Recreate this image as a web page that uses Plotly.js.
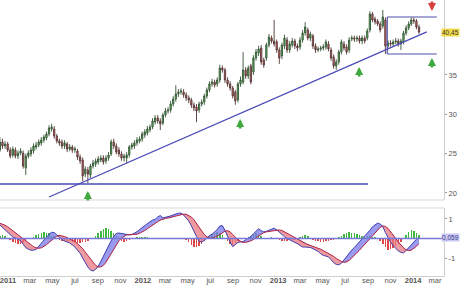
<!DOCTYPE html>
<html><head><meta charset="utf-8">
<script src="https://cdn.plot.ly/plotly-3.0.1.min.js"></script>
<style>html,body{margin:0;padding:0;background:#fff;}#chart{width:460px;height:286px;}</style>
</head><body><div id="chart"></div>
<script>
// Weekly candles, first week starting 2010-12-10
const firstWeek = '2010-12-10';
const open = [25.46,26.48,25.97,26.23,25.46,24.83,25.46,24.70,25.08,25.08,
23.18,24.70,24.96,25.34,25.84,26.10,26.35,26.73,26.99,27.50,
28.13,28.13,27.24,26.61,26.48,25.97,26.23,25.59,25.84,25.46,
25.34,24.57,24.19,22.41,22.92,22.29,23.43,23.68,23.94,24.19,
24.45,24.07,24.45,24.96,26.48,25.97,25.46,24.96,24.45,24.45,
24.83,25.84,25.97,26.35,26.61,26.86,27.37,27.62,28.01,28.39,
29.02,29.53,29.15,28.89,29.91,30.42,30.55,31.31,31.94,32.58,
32.83,32.83,32.45,32.08,31.82,31.18,30.93,30.55,31.31,31.56,
32.32,33.09,33.85,34.10,33.85,34.36,35.88,35.63,34.36,33.85,
33.34,32.83,31.82,33.85,34.10,35.63,34.87,36.14,35.37,37.15,
37.79,38.42,36.90,37.15,38.81,39.69,39.31,39.19,38.17,37.41,
38.68,39.44,38.17,38.81,39.31,38.68,38.55,39.44,40.33,40.71,
39.69,39.95,38.68,38.17,38.30,38.42,38.55,38.93,38.17,37.28,
36.14,36.65,37.92,38.93,38.55,38.17,39.57,39.69,39.57,39.69,
39.31,39.69,39.69,40.71,42.74,42.11,41.85,41.47,41.22,41.98,
38.68,39.06,38.93,39.19,39.31,38.93,39.19,40.33,40.96,41.47,
41.98,41.85,41.09];
const close = [26.48,25.97,26.23,25.46,24.70,25.59,24.70,25.08,25.34,23.43,
24.70,25.08,25.46,25.97,26.10,26.48,26.73,27.12,27.50,28.26,
28.39,27.24,26.61,26.35,25.97,26.35,25.59,25.84,25.46,25.59,
24.57,24.07,22.16,23.05,22.41,23.43,23.81,24.07,24.32,24.45,
23.94,24.45,24.83,26.48,25.97,25.21,24.96,24.45,24.70,24.83,
25.84,26.10,26.35,26.73,26.86,27.50,27.75,28.13,28.39,29.15,
29.53,29.15,28.77,29.91,30.42,30.55,31.31,31.94,32.58,32.83,
32.96,32.45,32.08,31.82,31.18,30.80,30.42,31.31,31.56,32.32,
33.09,33.85,34.10,33.72,34.36,35.88,35.63,34.36,33.85,33.34,
32.32,31.69,33.85,34.36,35.63,34.87,35.88,34.10,37.15,37.92,
38.30,36.65,36.26,38.81,39.82,39.31,38.93,38.17,37.15,38.81,
39.69,38.17,38.93,39.31,38.68,38.42,39.44,40.33,41.09,39.69,
40.20,38.68,38.17,38.30,38.42,38.55,39.19,38.30,37.15,36.14,
36.65,37.92,39.19,38.42,37.92,39.44,39.69,39.57,39.69,39.31,
39.69,39.31,40.58,42.74,41.98,41.73,41.47,40.71,42.36,38.68,
39.06,38.93,39.19,39.31,38.93,39.31,40.33,40.96,41.47,41.98,
41.85,41.09,40.45];
const high = [27.1,26.9,26.6,26.5,25.8,25.9,25.8,25.4,25.7,25.4,
25.0,25.4,25.8,26.3,26.5,26.8,27.1,27.4,27.8,28.6,
28.8,28.5,27.5,26.9,26.8,26.7,26.5,26.2,26.1,25.9,
25.6,24.9,24.5,23.4,23.3,23.7,24.2,24.4,24.7,24.8,
24.8,24.8,25.2,26.8,26.9,26.3,25.8,25.3,25.0,25.2,
26.1,26.4,26.7,27.1,27.2,27.8,28.1,28.5,28.7,29.5,
29.9,29.9,29.5,30.2,30.8,30.9,31.7,32.3,33.7,33.2,
33.3,33.2,32.8,32.4,32.1,31.5,31.3,31.6,31.9,32.6,
33.4,34.2,34.5,34.4,34.7,36.3,36.2,35.9,34.7,34.2,
33.6,33.1,34.1,34.8,37.9,36.0,36.2,36.4,37.5,38.3,
38.7,38.8,37.2,39.1,40.2,40.0,42.0,39.5,38.5,39.1,
40.1,39.8,39.3,39.7,39.6,39.0,39.8,40.7,41.7,41.0,
40.5,40.2,39.0,38.6,38.7,38.9,39.5,39.3,38.5,37.6,
37.0,38.2,39.5,39.3,38.9,39.8,40.0,40.0,40.0,40.0,
40.0,40.0,40.9,43.1,43.0,42.4,42.1,41.8,43.25,42.3,
39.4,39.4,39.5,39.7,39.6,39.6,40.6,41.3,41.8,42.3,
42.3,42.1,41.4];
const low = [25.2,25.6,25.6,25.2,24.4,24.5,24.4,24.3,24.8,23.1,
22.3,24.4,24.6,25.0,25.5,25.8,26.0,26.4,26.7,27.2,
27.8,26.9,26.3,26.0,25.6,25.6,25.2,25.3,25.1,25.1,
24.2,23.7,21.5,22.0,21.27,21.9,23.1,23.3,23.6,23.9,
23.6,23.7,24.1,24.7,25.6,24.9,24.6,24.1,24.0,23.8,
24.5,25.5,25.6,26.0,26.3,26.5,27.0,27.3,27.7,28.1,
28.7,28.8,28.0,28.6,29.6,30.1,30.2,31.0,31.6,32.2,
32.5,32.1,31.7,31.4,30.8,30.4,29.0,30.2,31.0,31.2,
32.0,32.8,33.5,33.4,33.5,34.0,35.3,34.0,33.5,33.0,
32.0,31.2,31.5,33.5,33.8,34.5,34.5,33.8,35.0,36.8,
37.4,36.3,35.9,36.8,38.5,39.0,38.6,37.8,36.4,37.0,
38.3,37.8,37.8,38.5,38.3,38.0,38.2,39.1,40.0,39.4,
39.3,38.3,37.8,37.9,38.0,38.1,38.2,38.0,36.8,35.8,
35.63,36.3,37.6,38.1,37.6,37.8,39.3,39.2,39.2,39.0,
38.9,39.0,39.4,40.4,41.7,41.4,41.2,40.4,40.9,37.66,
38.3,38.6,38.6,38.9,38.6,38.17,38.9,40.0,40.7,41.2,
41.5,40.8,40.2];
const macd = [0.69,0.57,0.43,0.29,0.17,0.08,0.03,-0.04,-0.11,-0.3,
-0.47,-0.55,-0.6,-0.6,-0.56,-0.4,-0.26,-0.1,0.07,0.22,
0.32,0.3,0.17,0.05,-0.05,-0.13,-0.18,-0.23,-0.33,-0.44,
-0.6,-0.76,-1.0,-1.24,-1.46,-1.62,-1.67,-1.58,-1.42,-1.18,
-0.9,-0.6,-0.33,-0.12,0.1,0.26,0.28,0.26,0.23,0.2,
0.18,0.2,0.26,0.35,0.46,0.57,0.67,0.78,0.86,0.94,
0.98,1.1,1.18,1.06,1.08,1.12,1.16,1.22,1.27,1.3,
1.3,1.2,1.05,0.9,0.65,0.35,0.1,-0.15,-0.18,-0.1,
0.05,0.15,0.22,0.32,0.46,0.64,0.66,0.42,0.1,-0.18,
-0.42,-0.32,-0.2,-0.18,-0.16,-0.06,0.02,0.1,0.24,0.4,
0.5,0.4,0.34,0.37,0.42,0.48,0.53,0.45,0.32,0.2,
0.09,0.0,-0.08,-0.15,-0.2,-0.26,-0.36,-0.44,-0.44,-0.44,
-0.46,-0.52,-0.57,-0.66,-0.78,-0.87,-0.9,-0.94,-1.08,-1.24,
-1.33,-1.35,-1.27,-1.1,-0.9,-0.72,-0.6,-0.46,-0.32,-0.18,
-0.05,0.12,0.27,0.42,0.6,0.72,0.79,0.74,0.62,0.3,
0.05,-0.18,-0.36,-0.5,-0.64,-0.71,-0.74,-0.62,-0.48,-0.34,
-0.16,-0.04,0.06];
const signal = [0.78,0.74,0.68,0.6,0.5,0.4,0.3,0.2,0.1,0.0,
-0.12,-0.24,-0.34,-0.42,-0.48,-0.5,-0.48,-0.42,-0.32,-0.2,
-0.08,0.04,0.12,0.16,0.14,0.1,0.04,-0.02,-0.08,-0.16,
-0.26,-0.38,-0.52,-0.7,-0.88,-1.06,-1.24,-1.38,-1.46,-1.46,
-1.38,-1.22,-1.0,-0.78,-0.54,-0.3,-0.12,0.02,0.12,0.18,
0.2,0.2,0.2,0.22,0.27,0.33,0.41,0.5,0.6,0.7,
0.78,0.86,0.94,1.0,1.03,1.05,1.08,1.11,1.15,1.19,
1.23,1.25,1.24,1.19,1.1,0.96,0.78,0.56,0.36,0.2,
0.08,0.02,0.02,0.06,0.12,0.2,0.3,0.38,0.4,0.34,
0.2,0.06,-0.06,-0.14,-0.2,-0.2,-0.17,-0.12,-0.05,0.04,
0.14,0.24,0.3,0.34,0.36,0.38,0.41,0.44,0.44,0.41,
0.35,0.28,0.2,0.12,0.04,-0.04,-0.11,-0.18,-0.25,-0.31,
-0.35,-0.4,-0.44,-0.49,-0.55,-0.62,-0.69,-0.76,-0.83,-0.92,
-1.02,-1.11,-1.18,-1.22,-1.2,-1.12,-1.0,-0.88,-0.74,-0.6,
-0.45,-0.3,-0.16,-0.02,0.14,0.3,0.45,0.57,0.64,0.62,
0.52,0.36,0.18,0.0,-0.18,-0.34,-0.48,-0.58,-0.62,-0.6,
-0.52,-0.4,-0.26];
const hist = [0.12,0.2,0.15,-0.05,-0.1,-0.18,-0.25,-0.3,-0.3,-0.25,
-0.15,-0.05,0.02,0.1,0.18,0.25,0.3,0.33,0.3,0.26,
0.2,0.12,-0.04,-0.08,-0.12,-0.15,-0.15,-0.15,-0.18,-0.2,
-0.23,-0.22,-0.2,-0.18,-0.12,-0.05,0.05,0.15,0.28,0.4,
0.5,0.54,0.5,0.4,0.28,0.12,-0.05,-0.12,-0.18,-0.15,
-0.1,-0.05,0.04,0.08,0.1,0.1,0.08,0.06,0.05,0.04,
0.03,0.05,0.05,0.03,0.02,0.02,0.03,0.04,0.04,0.03,
0.02,-0.02,-0.08,-0.2,-0.32,-0.42,-0.44,-0.4,-0.3,-0.15,
0.05,0.15,0.22,0.28,0.33,0.3,0.2,0.05,-0.15,-0.28,
-0.33,-0.25,-0.12,-0.05,0.02,0.05,0.1,0.15,0.22,0.28,
0.25,0.15,0.05,0.04,0.05,0.06,0.05,-0.04,-0.08,-0.12,
-0.15,-0.12,-0.1,-0.08,-0.06,-0.05,0.06,0.12,0.18,0.12,
-0.04,-0.08,-0.12,-0.15,-0.18,-0.18,-0.15,-0.12,-0.1,-0.08,
-0.04,0.06,0.14,0.22,0.3,0.33,0.3,0.26,0.22,0.18,
0.12,0.08,0.15,0.12,0.1,0.06,0.02,-0.15,-0.3,-0.45,
-0.6,-0.55,-0.48,-0.4,-0.3,-0.18,0.05,0.2,0.35,0.44,
0.4,0.3,0.2];
const tickDates = ['2011-01-01','2011-03-01','2011-05-01','2011-07-01','2011-09-01','2011-11-01',
'2012-01-01','2012-03-01','2012-05-01','2012-07-01','2012-09-01','2012-11-01',
'2013-01-01','2013-03-01','2013-05-01','2013-07-01','2013-09-01','2013-11-01',
'2014-01-01','2014-03-01'];
const tickLabels = ['<b>2011</b>','mar','may','jul','sep','nov','<b>2012</b>','mar','may','jul','sep','nov',
'<b>2013</b>','mar','may','jul','sep','nov','<b>2014</b>','mar'];
const lastPriceLabel = '40,45';
const lastMacdLabel = '0,059';
const supportLevel = 21.14;
const trendStart = ['2011-04-22', 19.49];
const trendEnd = ['2014-02-07', 40.46];
const boxTop = 42.36, boxBottom = 37.66;

const DAY = 86400000;
const t0 = new Date(firstWeek + 'T00:00:00Z').getTime();
const dates = open.map((_, i) => new Date(t0 + i * 7 * DAY).toISOString().slice(0, 10));

const hi = macd.map((m, i) => Math.max(m, signal[i]));
const lo = macd.map((m, i) => Math.min(m, signal[i]));

const traces = [
  {type:'candlestick', x:dates, open:open, high:high, low:low, close:close, xaxis:'x', yaxis:'y',
   increasing:{line:{color:'#355535', width:0.9}, fillcolor:'#58c058'},
   decreasing:{line:{color:'#553535', width:0.9}, fillcolor:'#e06a6a'},
   whiskerwidth:0, hoverinfo:'none'},
  {type:'bar', x:dates, y:hist, xaxis:'x', yaxis:'y2', width:4*DAY,
   marker:{color:hist.map(v => v >= 0 ? '#40b840' : '#e04848')}, hoverinfo:'none'},
  {type:'scatter', mode:'lines', x:dates, y:signal, xaxis:'x', yaxis:'y2', line:{width:0, color:'rgba(0,0,0,0)'}, hoverinfo:'none'},
  {type:'scatter', mode:'lines', x:dates, y:hi, xaxis:'x', yaxis:'y2', line:{width:0, color:'rgba(0,0,0,0)'}, fill:'tonexty', fillcolor:'rgba(120,120,232,0.75)', hoverinfo:'none'},
  {type:'scatter', mode:'lines', x:dates, y:signal, xaxis:'x', yaxis:'y2', line:{width:0, color:'rgba(0,0,0,0)'}, hoverinfo:'none'},
  {type:'scatter', mode:'lines', x:dates, y:lo, xaxis:'x', yaxis:'y2', line:{width:0, color:'rgba(0,0,0,0)'}, fill:'tonexty', fillcolor:'rgba(232,120,130,0.75)', hoverinfo:'none'},
  {type:'scatter', mode:'lines', x:dates, y:macd, xaxis:'x', yaxis:'y2', line:{width:1, color:'#4040b0'}, hoverinfo:'none'},
  {type:'scatter', mode:'lines', x:dates, y:signal, xaxis:'x', yaxis:'y2', line:{width:1, color:'#b02040'}, hoverinfo:'none'}
];

const blue = '#4a4ab8';
const tickFont = {family:'Liberation Sans, Arial, sans-serif', size:7.5, color:'#555'};
function upArrow(x, y, color) {
  return {x:x, y:y, xref:'x', yref:'y', text:'', showarrow:true, ax:0, ay:11,
          arrowhead:2, arrowsize:0.62, arrowwidth:2.6, arrowcolor:color, standoff:0, startstandoff:0};
}
function downArrow(x, y, color) {
  return {x:x, y:y, xref:'x', yref:'y', text:'', showarrow:true, ax:0, ay:-11,
          arrowhead:2, arrowsize:0.62, arrowwidth:2.6, arrowcolor:color, standoff:0, startstandoff:0};
}

const layout = {
  width:460, height:286, margin:{l:0, r:16, t:0, b:10},
  paper_bgcolor:'#fff', plot_bgcolor:'#fff', showlegend:false, bargap:0,
  font:tickFont,
  xaxis:{type:'date', range:['2010-12-10 08:00','2014-03-25 14:00'], anchor:'y2',
         rangeslider:{visible:false}, tickmode:'array', tickvals:tickDates, ticktext:tickLabels,
         showgrid:false, zeroline:false, showline:true, linecolor:'#cfcfcf', ticks:'',
         ticklabelstandoff:-3, ticklabeloverflow:'allow', tickfont:tickFont, fixedrange:true},
  yaxis:{domain:[0.2754, 1], range:[19.11, 44.52], side:'right', anchor:'x', showgrid:false, zeroline:false,
         tickmode:'array', tickvals:[20,25,30,35], ticks:'outside', ticklen:2, tickcolor:'#999',
         showline:true, linecolor:'#cfcfcf', tickfont:tickFont},
  yaxis2:{domain:[0, 0.2464], range:[-1.923, 1.564], side:'right', anchor:'x', showgrid:false, zeroline:false,
         tickmode:'array', tickvals:[-1,1], ticktext:['-1','1'], ticks:'outside', ticklen:2, tickcolor:'#999',
         showline:true, linecolor:'#cfcfcf', tickfont:tickFont},
  shapes:[
    {type:'line', xref:'paper', yref:'paper', x0:0, x1:1, y0:0.2754, y1:0.2754, line:{color:'#d8d8d8', width:1}},
    {type:'line', xref:'paper', yref:'paper', x0:0, x1:1, y0:0.2464, y1:0.2464, line:{color:'#d8d8d8', width:1}},
    {type:'line', xref:'paper', yref:'y2', x0:0, x1:1, y0:0, y1:0, line:{color:'#7878d8', width:1.5}},
    {type:'line', xref:'x', yref:'y', x0:'2010-12-10', x1:'2013-09-01', y0:supportLevel, y1:supportLevel, line:{color:blue, width:1.3}},
    {type:'line', xref:'x', yref:'y', x0:trendStart[0], x1:trendEnd[0], y0:trendStart[1], y1:trendEnd[1], line:{color:blue, width:1.3}},
    {type:'line', xref:'x', yref:'y', x0:'2013-10-23', x1:'2014-03-06', y0:boxTop, y1:boxTop, line:{color:'#5050a8', width:1.2}},
    {type:'line', xref:'x', yref:'y', x0:'2013-10-23', x1:'2014-03-06', y0:boxBottom, y1:boxBottom, line:{color:'#5050a8', width:1.2}},
    {type:'line', xref:'x', yref:'y', x0:'2013-10-23', x1:'2013-10-23', y0:boxBottom, y1:boxTop, line:{color:'#5050a8', width:1.2}}
  ],
  annotations:[
    upArrow('2011-08-05', 20.25, '#3fa83f'),
    upArrow('2012-09-20', 29.40, '#3fa83f'),
    upArrow('2013-08-08', 36.01, '#3fa83f'),
    upArrow('2014-02-21', 37.15, '#3fa83f'),
    downArrow('2014-02-21', 43.13, '#d84040'),
    {x:460/444, xref:'paper', y:40.45, yref:'y', xanchor:'right', yanchor:'middle', text:lastPriceLabel,
     showarrow:false, bgcolor:'#f2dc4a', borderpad:0, font:{family:'Liberation Sans, Arial', size:6.5, color:'#333'}},
    {x:460/444, xref:'paper', y:0.059, yref:'y2', xanchor:'right', yanchor:'middle', text:lastMacdLabel,
     showarrow:false, bgcolor:'#c9c9f2', borderpad:0, font:{family:'Liberation Sans, Arial', size:6.5, color:'#3a3a8a'}}
  ]
};

Plotly.newPlot('chart', traces, layout, {staticPlot:true, displayModeBar:false});
</script>
</body></html>
